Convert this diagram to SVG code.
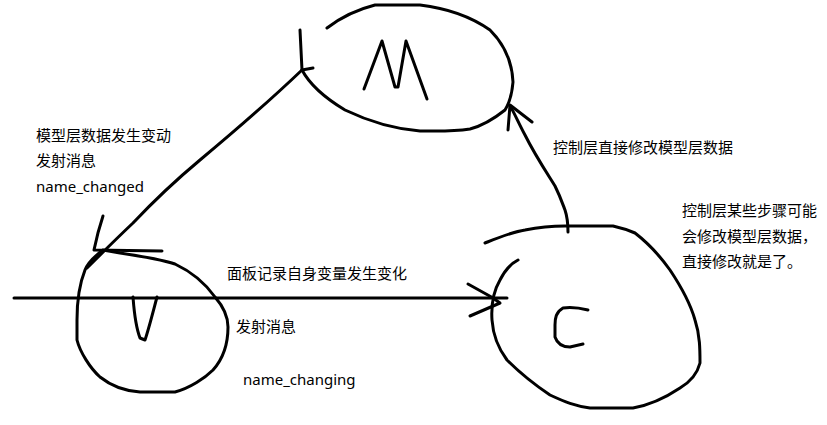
<svg xmlns="http://www.w3.org/2000/svg" width="827" height="425" viewBox="0 0 827 425">
<style>
.s{fill:none;stroke:#000;stroke-width:3;stroke-linecap:round;stroke-linejoin:round}
.t{font-family:"Noto Sans","Noto Sans CJK SC",sans-serif;font-size:15px;fill:#000}
</style>
<rect width="827" height="425" fill="#fff"/>
<g id="node-M">
<path class="s" d="M327,28 C340,18 355,10 375,5 L420,5 C445,8 470,16 490,30 C502,42 512,60 513,82 C512,95 510,102 505,110 C495,118 485,125 470,129 C450,132 435,131 420,131 C395,129 370,122 345,110 C325,98 310,85 302,70"/>
<path class="s" d="M364,89 L382,41 L395,87 L398,87 L406,41 L427,99"/>
</g>
<g id="node-V">
<path class="s" d="M103,250 C95,256 88,262 85,270 C79,285 77,300 77,320 L77,340 C80,352 90,368 100,377 C110,385 125,391 140,392 L175,392 C190,388 205,378 213,370 C222,360 228,345 228,327 C228,315 222,305 215,297 C205,283 192,272 175,264 C160,259 140,256 120,253 L103,250"/>
<path class="s" d="M133,297 C134,310 135,325 140,338 L145,340 C149,328 153,312 157,297"/>
</g>
<g id="node-C">
<path class="s" d="M485,243 C500,237 512,232 525,230 C540,227 550,226 565,226 L613,226 C622,228 628,230 635,233 C648,243 660,256 670,270 C680,285 690,302 695,320 C700,335 700,350 700,363 C697,375 690,382 680,388 C665,398 650,405 633,408 L590,408 C575,406 565,402 550,395 C535,385 520,373 507,360 C498,348 493,335 492,320 C491,305 493,292 500,280 C505,270 512,263 518,260"/>
<path class="s" d="M588,310 C580,308 570,307 563,308 C556,312 555,318 555,325 L555,337 C557,343 562,347 570,347 L583,344"/>
</g>
<g id="connectors">
<path class="s" d="M87,268 C100,255 115,240 133,223 C150,205 170,185 200,160 C230,135 260,110 302,70"/>
<path class="s" d="M103,216 C99,228 96,240 94,250 L162,251"/>
<path class="s" d="M300,30 L302,70 L313,68"/>
<path class="s" d="M14,298 L507,298"/>
<path class="s" d="M468,284 L495,299 M470,316 L500,303 L493,298"/>
<path class="s" d="M568,232 C568,222 567,216 565,210 C562,202 560,196 555,186 C545,170 535,155 525,135 C518,122 514,112 510,106"/>
<path class="s" d="M510,105 L508,130 M510,105 L532,122"/>
</g>
<g id="labels">
<text class="t" x="36" y="141">模型层数据发生变动</text>
<text class="t" x="36" y="166">发射消息</text>
<text class="t" x="36" y="192">name_changed</text>
<text class="t" x="227" y="279">面板记录自身变量发生变化</text>
<text class="t" x="236" y="332">发射消息</text>
<text class="t" x="243" y="385">name_changing</text>
<text class="t" x="553" y="153">控制层直接修改模型层数据</text>
<text class="t" x="682" y="216">控制层某些步骤可能</text>
<text class="t" x="682" y="242">会修改模型层数据，</text>
<text class="t" x="682" y="267">直接修改就是了。</text>
</g>
</svg>
